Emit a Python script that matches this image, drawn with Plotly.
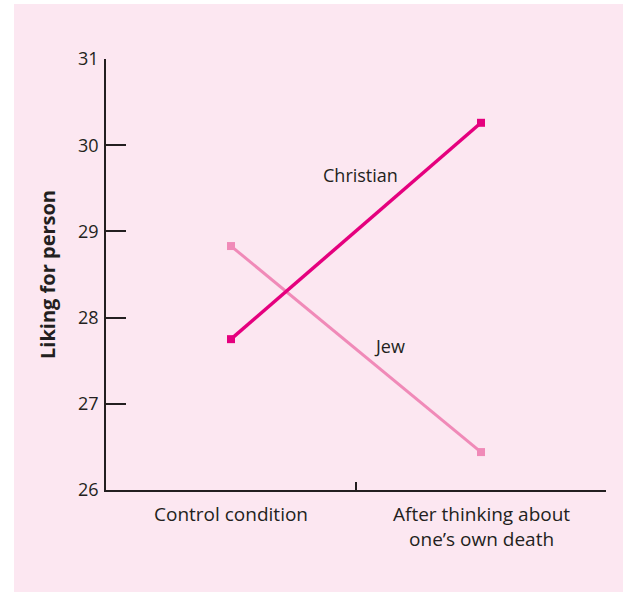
import plotly.graph_objects as go

categories = ["Control condition", "After thinking about<br>one’s own death"]
christian = [27.75, 30.26]
jew = [28.83, 26.44]
y_ticks = [26, 27, 28, 29, 30, 31]

PINK_BG = "#FCE7F1"
DARK = "#231F20"
C_COLOR = "#E5007E"
J_COLOR = "#F08AB8"
FONT = "Open Sans"

W, H = 623, 592
L, R, T, B = 106, 17, 59, 102
pw, ph = W - L - R, H - T - B

fig = go.Figure()
fig.add_trace(go.Scatter(
    x=[0, 1], y=jew, mode="lines+markers", name="Jew",
    line=dict(color=J_COLOR, width=3),
    marker=dict(symbol="square", size=8, color=J_COLOR),
))
fig.add_trace(go.Scatter(
    x=[0, 1], y=christian, mode="lines+markers", name="Christian",
    line=dict(color=C_COLOR, width=3.5),
    marker=dict(symbol="square", size=8, color=C_COLOR),
))

# white margins outside the pink panel (left strip and top strip)
fig.add_shape(type="rect", xref="paper", yref="paper", layer="below",
              x0=(-20 - L) / pw, x1=(14 - L) / pw,
              y0=(T + ph - H - 20) / ph, y1=(T + ph + 20) / ph,
              fillcolor="white", line=dict(width=0))
fig.add_shape(type="rect", xref="paper", yref="paper", layer="below",
              x0=(-20 - L) / pw, x1=(W + 20 - L) / pw,
              y0=(T + ph - 4) / ph, y1=(T + ph + 20) / ph,
              fillcolor="white", line=dict(width=0))

fig.add_annotation(x=0.516, y=29.65, text="Christian", showarrow=False,
                   font=dict(family=FONT, size=18, color=DARK))
fig.add_annotation(x=0.632, y=27.67, text="Jew", showarrow=False,
                   font=dict(family=FONT, size=18, color=DARK))

# category labels
for i, c in enumerate(categories):
    fig.add_annotation(x=i, y=0, yref="paper", yanchor="top", yshift=-9,
                       text=c, showarrow=False,
                       font=dict(family=FONT, size=19, color=DARK))

fig.update_layout(
    width=W, height=H,
    margin=dict(l=L, r=R, t=T, b=B),
    paper_bgcolor=PINK_BG, plot_bgcolor="rgba(0,0,0,0)",
    showlegend=False,
    font=dict(family=FONT, color=DARK),
)
fig.update_xaxes(
    range=[-0.5, 1.5], tickvals=[0.5, 1.5], ticktext=["", ""],
    ticks="inside", ticklen=8, tickwidth=1.5, tickcolor=DARK,
    showline=True, linecolor=DARK, linewidth=1.5,
    showgrid=False, zeroline=False,
)
fig.update_yaxes(
    range=[26, 31], tickvals=y_ticks,
    ticks="inside", ticklen=20, tickwidth=1.5, tickcolor=DARK,
    showline=True, linecolor=DARK, linewidth=1.5,
    showgrid=False, zeroline=False, ticklabelstandoff=2,
    tickfont=dict(family=FONT, size=18, color=DARK),
    title=dict(text="<b>Liking for person</b>", font=dict(family=FONT, size=20, color=DARK), standoff=17),
)

fig.write_html("out.html", config={"displayModeBar": False},
               post_script="document.body.style.margin='0';document.body.style.overflow='hidden';"
                           "document.body.style.background='" + PINK_BG + "';")
